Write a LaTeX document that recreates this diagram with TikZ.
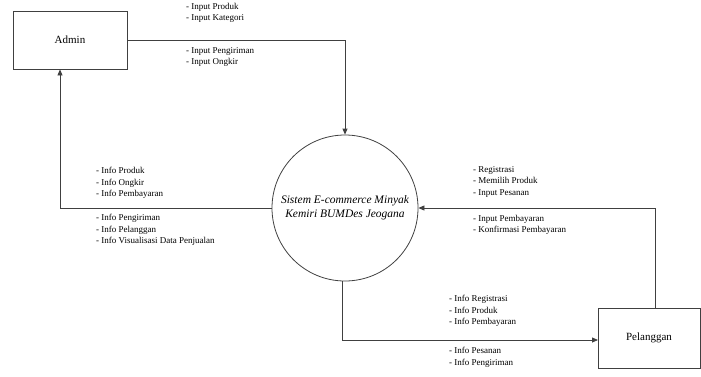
\documentclass[tikz,border=0pt]{standalone}
\usepackage{fontspec}
\setmainfont{Liberation Serif}
\usetikzlibrary{arrows.meta}
\begin{document}
\begin{tikzpicture}[x=1pt,y=-1pt,
  entity/.style={draw=black!75,line width=0.8pt,minimum width=114pt,minimum height=58pt,inner sep=0pt,font=\fontsize{11}{12}\selectfont},
  proc/.style={draw=black!75,line width=0.8pt,circle,minimum size=146pt,inner sep=0pt,font=\fontsize{11.5}{14}\selectfont\itshape,align=center},
  flow/.style={draw=black!75,line width=0.8pt,-{Triangle[length=6pt,width=5pt]}},
  lbl/.style={font=\fontsize{9}{11.5}\selectfont,align=left,anchor=north west,inner sep=0pt}]
\useasboundingbox (0,0) rectangle (701,376);
\node[entity] (admin) at (70,40) {Admin};
\node[entity,minimum width=102pt,minimum height=60pt] (pel) at (649,338) {Pelanggan};
\node[proc] (sys) at (345,208) {Sistem E-commerce Minyak\\Kemiri BUMDes Jeogana};
\draw[flow] (admin.east) -| (sys.north);
\draw[flow] (sys.west) -| (admin.south -| 60,0);
\coordinate (pt) at (655,308);
\draw[flow] (pt) |- (sys.east);
\coordinate (sb) at (342,281);
\coordinate (pl) at (598,340);
\draw[flow] (sb) |- (pl);
\node[lbl] (l1) at (186,3) {- Input Produk\\- Input Kategori};
\node[lbl] (l2) at (186,47) {- Input Pengiriman\\- Input Ongkir};
\node[lbl] (l3) at (96,167) {- Info Produk\\- Info Ongkir\\- Info Pembayaran};
\node[lbl] (l4) at (96,214) {- Info Pengiriman\\- Info Pelanggan\\- Info Visualisasi Data Penjualan};
\node[lbl] (l5) at (473,166) {- Registrasi\\- Memilih Produk\\- Input Pesanan};
\node[lbl] (l6) at (473,215) {- Input Pembayaran\\- Konfirmasi Pembayaran};
\node[lbl] (l7) at (449,295) {- Info Registrasi\\- Info Produk\\- Info Pembayaran};
\node[lbl] (l8) at (449,347) {- Info Pesanan\\- Info Pengiriman};
\end{tikzpicture}
\end{document}
